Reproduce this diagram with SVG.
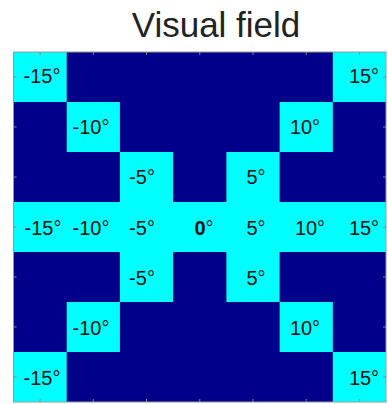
<svg xmlns="http://www.w3.org/2000/svg" width="388" height="404" viewBox="0 0 388 404">
<style>
.bg{fill:#00008A}
.c{fill:#00FFFF}
.t{font-family:"Liberation Sans",Arial,sans-serif;font-size:20px;fill:#111;text-anchor:middle}
.b{font-weight:bold}
.title{font-family:"Liberation Sans",Arial,sans-serif;font-size:35px;fill:#222;text-anchor:middle}
.tick{stroke:#888;stroke-width:1}
</style>
<rect width="388" height="404" fill="#fff"/>
<text class="title" x="216" y="37">Visual field</text>
<rect class="bg" x="13.5" y="52" width="372.5" height="350"/>
<g id="r0">
<rect class="c" x="13.5" y="52" width="53.2" height="50"/>
<rect class="c" x="332.8" y="52" width="53.2" height="50"/>
<text class="t" x="42" y="83">-15°</text>
<text class="t" x="364" y="83">15°</text>
</g>
<g id="r1">
<rect class="c" x="66.7" y="102" width="53.2" height="50"/>
<rect class="c" x="279.6" y="102" width="53.2" height="50"/>
<text class="t" x="91" y="134">-10°</text>
<text class="t" x="305" y="134">10°</text>
</g>
<g id="r2">
<rect class="c" x="119.9" y="152" width="53.2" height="50"/>
<rect class="c" x="226.4" y="152" width="53.2" height="50"/>
<text class="t" x="142" y="184">-5°</text>
<text class="t" x="256" y="184">5°</text>
</g>
<g id="r3">
<rect class="c" x="13.5" y="202" width="372.5" height="50"/>
<text class="t" x="43" y="235">-15°</text>
<text class="t" x="91" y="235">-10°</text>
<text class="t" x="142" y="235">-5°</text>
<text class="t" x="204" y="235"><tspan class="b">0</tspan>°</text>
<text class="t" x="256" y="235">5°</text>
<text class="t" x="310" y="235">10°</text>
<text class="t" x="364" y="235">15°</text>
</g>
<g id="r4">
<rect class="c" x="119.9" y="252" width="53.2" height="50"/>
<rect class="c" x="226.4" y="252" width="53.2" height="50"/>
<text class="t" x="142" y="285">-5°</text>
<text class="t" x="256" y="285">5°</text>
</g>
<g id="r5">
<rect class="c" x="66.7" y="302" width="53.2" height="50"/>
<rect class="c" x="279.6" y="302" width="53.2" height="50"/>
<text class="t" x="91" y="335">-10°</text>
<text class="t" x="305" y="335">10°</text>
</g>
<g id="r6">
<rect class="c" x="13.5" y="352" width="53.2" height="50"/>
<rect class="c" x="332.8" y="352" width="53.2" height="50"/>
<text class="t" x="42" y="385">-15°</text>
<text class="t" x="364" y="385">15°</text>
</g>
<rect x="13.5" y="52" width="372.5" height="350" fill="none" stroke="#999" stroke-width="1"/>
<g id="ticks" class="tick">
<path d="M40.1 52v3M93.3 52v3M146.5 52v3M199.8 52v3M253 52v3M306.2 52v3M359.4 52v3"/>
<path d="M40.1 402v-3M93.3 402v-3M146.5 402v-3M199.8 402v-3M253 402v-3M306.2 402v-3M359.4 402v-3"/>
<path d="M13.5 77h3M13.5 127h3M13.5 177h3M13.5 227h3M13.5 277h3M13.5 327h3M13.5 377h3"/>
<path d="M386 77h-3M386 127h-3M386 177h-3M386 227h-3M386 277h-3M386 327h-3M386 377h-3"/>
</g>
</svg>
